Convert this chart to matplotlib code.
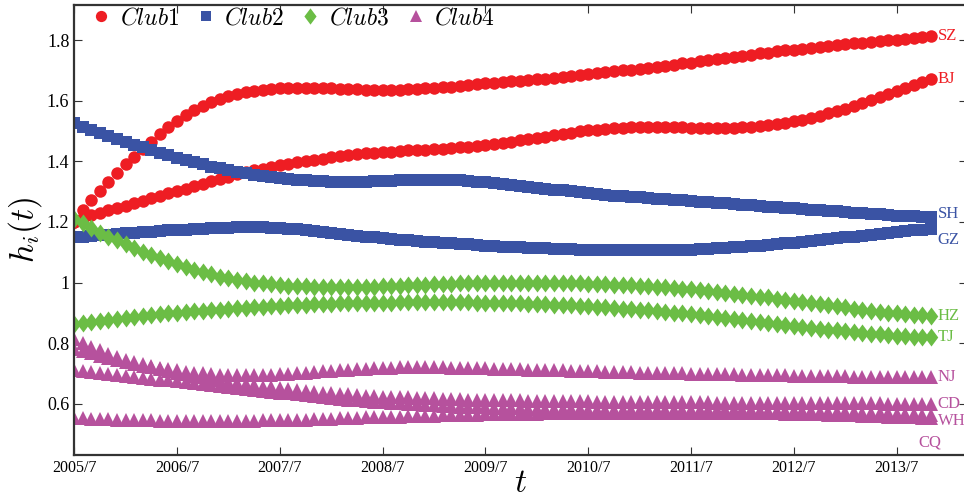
import numpy as np
import matplotlib
matplotlib.use("Agg")
from matplotlib import pyplot as plt
from matplotlib.lines import Line2D

plt.rcParams["font.family"] = ["Liberation Serif", "DejaVu Serif"]
plt.rcParams["mathtext.fontset"] = "cm"

# monthly values, 2005/7 .. 2013/11
SZ = [1.200, 1.240, 1.272, 1.303, 1.333, 1.362, 1.390, 1.415, 1.440, 1.465, 1.490, 1.513,
      1.533, 1.552, 1.568, 1.583, 1.596, 1.606, 1.615, 1.622, 1.628, 1.632, 1.636, 1.639,
      1.641, 1.642, 1.643, 1.643, 1.643, 1.642, 1.641, 1.640, 1.639, 1.638, 1.637, 1.637,
      1.636, 1.636, 1.637, 1.638, 1.639, 1.641, 1.643, 1.645, 1.647, 1.650, 1.652, 1.655,
      1.657, 1.659, 1.662, 1.664, 1.666, 1.668, 1.671, 1.673, 1.676, 1.679, 1.682, 1.685,
      1.688, 1.691, 1.694, 1.697, 1.700, 1.703, 1.706, 1.709, 1.712, 1.716, 1.719, 1.723,
      1.726, 1.730, 1.734, 1.737, 1.741, 1.745, 1.748, 1.752, 1.756, 1.759, 1.763, 1.766,
      1.769, 1.772, 1.775, 1.778, 1.781, 1.784, 1.787, 1.789, 1.792, 1.795, 1.797, 1.800,
      1.802, 1.805, 1.808, 1.811, 1.814]
BJ = [1.200, 1.213, 1.222, 1.230, 1.238, 1.246, 1.254, 1.262, 1.270, 1.278, 1.286, 1.294,
      1.302, 1.310, 1.318, 1.326, 1.334, 1.342, 1.350, 1.357, 1.364, 1.370, 1.376, 1.382,
      1.387, 1.392, 1.397, 1.401, 1.405, 1.409, 1.413, 1.417, 1.420, 1.423, 1.426, 1.428,
      1.430, 1.432, 1.434, 1.436, 1.437, 1.439, 1.440, 1.442, 1.444, 1.446, 1.448, 1.451,
      1.454, 1.457, 1.461, 1.465, 1.469, 1.473, 1.478, 1.482, 1.487, 1.491, 1.495, 1.499,
      1.502, 1.505, 1.507, 1.509, 1.511, 1.512, 1.513, 1.513, 1.513, 1.513, 1.512, 1.512,
      1.511, 1.511, 1.510, 1.510, 1.510, 1.511, 1.512, 1.514, 1.516, 1.519, 1.523, 1.527,
      1.532, 1.538, 1.544, 1.551, 1.558, 1.566, 1.574, 1.583, 1.592, 1.601, 1.611, 1.621,
      1.631, 1.641, 1.651, 1.661, 1.671]
SH = [1.525, 1.515, 1.505, 1.495, 1.485, 1.475, 1.465, 1.455, 1.446, 1.437, 1.428, 1.420,
      1.412, 1.404, 1.397, 1.390, 1.383, 1.377, 1.371, 1.366, 1.361, 1.356, 1.352, 1.348,
      1.345, 1.342, 1.339, 1.337, 1.335, 1.334, 1.333, 1.332, 1.332, 1.332, 1.333, 1.334,
      1.335, 1.336, 1.337, 1.338, 1.339, 1.339, 1.339, 1.339, 1.338, 1.337, 1.335, 1.333,
      1.331, 1.328, 1.325, 1.322, 1.319, 1.316, 1.313, 1.310, 1.307, 1.304, 1.301, 1.298,
      1.295, 1.292, 1.290, 1.287, 1.285, 1.283, 1.281, 1.279, 1.277, 1.275, 1.273, 1.271,
      1.269, 1.267, 1.265, 1.263, 1.261, 1.259, 1.257, 1.255, 1.253, 1.251, 1.249, 1.247,
      1.245, 1.243, 1.241, 1.239, 1.237, 1.235, 1.233, 1.231, 1.229, 1.227, 1.225, 1.223,
      1.221, 1.220, 1.219, 1.218, 1.217]
GZ = [1.150, 1.152, 1.154, 1.156, 1.158, 1.160, 1.162, 1.164, 1.166, 1.168, 1.170, 1.172,
      1.174, 1.175, 1.177, 1.178, 1.179, 1.180, 1.181, 1.182, 1.182, 1.182, 1.182, 1.181,
      1.180, 1.178, 1.176, 1.173, 1.170, 1.167, 1.164, 1.161, 1.158, 1.155, 1.152, 1.149,
      1.146, 1.144, 1.141, 1.139, 1.137, 1.135, 1.133, 1.131, 1.129, 1.127, 1.126, 1.124,
      1.122, 1.121, 1.119, 1.118, 1.116, 1.115, 1.114, 1.113, 1.112, 1.111, 1.110, 1.109,
      1.108, 1.107, 1.107, 1.106, 1.106, 1.106, 1.106, 1.106, 1.106, 1.107, 1.107, 1.108,
      1.109, 1.110, 1.111, 1.113, 1.114, 1.116, 1.118, 1.120, 1.122, 1.124, 1.126, 1.129,
      1.131, 1.134, 1.137, 1.140, 1.143, 1.146, 1.149, 1.152, 1.155, 1.158, 1.161, 1.164,
      1.167, 1.170, 1.173, 1.175, 1.178]
HZ = [1.210, 1.195, 1.180, 1.165, 1.152, 1.139, 1.126, 1.114, 1.102, 1.091, 1.080, 1.070,
      1.060, 1.051, 1.042, 1.034, 1.027, 1.020, 1.014, 1.009, 1.004, 1.000, 0.997, 0.994,
      0.992, 0.990, 0.989, 0.988, 0.987, 0.986, 0.986, 0.986, 0.986, 0.986, 0.987, 0.987,
      0.988, 0.989, 0.990, 0.991, 0.992, 0.993, 0.994, 0.995, 0.996, 0.997, 0.997, 0.998,
      0.998, 0.999, 0.999, 0.999, 0.999, 0.999, 0.999, 0.999, 0.999, 0.998, 0.998, 0.997,
      0.996, 0.995, 0.994, 0.993, 0.992, 0.991, 0.990, 0.988, 0.986, 0.984, 0.982, 0.980,
      0.978, 0.975, 0.972, 0.969, 0.966, 0.963, 0.960, 0.957, 0.954, 0.951, 0.947, 0.944,
      0.940, 0.937, 0.933, 0.929, 0.925, 0.922, 0.918, 0.914, 0.911, 0.907, 0.904, 0.901,
      0.898, 0.896, 0.894, 0.892, 0.890]
TJ = [0.862, 0.866, 0.870, 0.874, 0.877, 0.880, 0.883, 0.886, 0.889, 0.892, 0.895, 0.898,
      0.900, 0.903, 0.905, 0.907, 0.909, 0.911, 0.913, 0.915, 0.917, 0.919, 0.920, 0.922,
      0.923, 0.925, 0.926, 0.927, 0.928, 0.929, 0.930, 0.931, 0.932, 0.932, 0.933, 0.933,
      0.934, 0.934, 0.935, 0.935, 0.935, 0.935, 0.935, 0.935, 0.935, 0.935, 0.935, 0.934,
      0.934, 0.933, 0.933, 0.932, 0.931, 0.930, 0.929, 0.928, 0.927, 0.926, 0.925, 0.923,
      0.922, 0.920, 0.918, 0.916, 0.914, 0.912, 0.910, 0.908, 0.905, 0.903, 0.900, 0.898,
      0.895, 0.892, 0.889, 0.886, 0.883, 0.880, 0.877, 0.874, 0.870, 0.867, 0.864, 0.860,
      0.857, 0.854, 0.851, 0.848, 0.845, 0.842, 0.839, 0.836, 0.833, 0.831, 0.829, 0.827,
      0.825, 0.823, 0.822, 0.821, 0.820]
NJ = [0.815, 0.800, 0.788, 0.776, 0.765, 0.755, 0.746, 0.738, 0.731, 0.725, 0.719, 0.714,
      0.710, 0.706, 0.703, 0.700, 0.698, 0.696, 0.695, 0.694, 0.694, 0.694, 0.695, 0.696,
      0.697, 0.699, 0.701, 0.703, 0.705, 0.707, 0.709, 0.711, 0.713, 0.715, 0.716, 0.717,
      0.718, 0.719, 0.720, 0.720, 0.720, 0.720, 0.720, 0.720, 0.719, 0.719, 0.718, 0.718,
      0.717, 0.716, 0.716, 0.715, 0.714, 0.713, 0.713, 0.712, 0.711, 0.710, 0.709, 0.709,
      0.708, 0.707, 0.706, 0.706, 0.705, 0.704, 0.703, 0.703, 0.702, 0.701, 0.701, 0.700,
      0.699, 0.699, 0.698, 0.698, 0.697, 0.697, 0.696, 0.696, 0.695, 0.695, 0.694, 0.694,
      0.693, 0.693, 0.692, 0.692, 0.692, 0.691, 0.691, 0.690, 0.690, 0.690, 0.689, 0.689,
      0.689, 0.688, 0.688, 0.688, 0.687]
CD = [0.780, 0.773, 0.766, 0.759, 0.752, 0.745, 0.738, 0.732, 0.726, 0.720, 0.714, 0.708,
      0.702, 0.697, 0.692, 0.687, 0.682, 0.677, 0.673, 0.669, 0.665, 0.661, 0.657, 0.654,
      0.651, 0.648, 0.645, 0.642, 0.639, 0.637, 0.635, 0.633, 0.631, 0.629, 0.627, 0.626,
      0.624, 0.623, 0.622, 0.621, 0.620, 0.619, 0.618, 0.617, 0.616, 0.615, 0.614, 0.614,
      0.613, 0.612, 0.612, 0.611, 0.611, 0.610, 0.610, 0.609, 0.609, 0.609, 0.608, 0.608,
      0.608, 0.607, 0.607, 0.607, 0.607, 0.606, 0.606, 0.606, 0.606, 0.606, 0.605, 0.605,
      0.605, 0.605, 0.605, 0.604, 0.604, 0.604, 0.604, 0.604, 0.603, 0.603, 0.603, 0.603,
      0.603, 0.602, 0.602, 0.602, 0.602, 0.602, 0.601, 0.601, 0.601, 0.601, 0.601, 0.600,
      0.600, 0.600, 0.600, 0.600, 0.600]
CQ = [0.710, 0.707, 0.704, 0.701, 0.698, 0.695, 0.692, 0.689, 0.686, 0.683, 0.680, 0.677,
      0.674, 0.671, 0.668, 0.664, 0.661, 0.658, 0.655, 0.652, 0.649, 0.646, 0.643, 0.640,
      0.637, 0.634, 0.631, 0.628, 0.625, 0.622, 0.619, 0.617, 0.614, 0.612, 0.609, 0.607,
      0.605, 0.603, 0.601, 0.599, 0.598, 0.596, 0.595, 0.593, 0.592, 0.591, 0.590, 0.589,
      0.588, 0.587, 0.586, 0.585, 0.585, 0.584, 0.584, 0.583, 0.583, 0.582, 0.582, 0.582,
      0.581, 0.581, 0.581, 0.581, 0.580, 0.580, 0.580, 0.580, 0.580, 0.580, 0.579, 0.579,
      0.579, 0.579, 0.579, 0.579, 0.578, 0.578, 0.578, 0.578, 0.577, 0.577, 0.577, 0.576,
      0.576, 0.575, 0.575, 0.574, 0.574, 0.573, 0.572, 0.572, 0.571, 0.570, 0.569, 0.568,
      0.567, 0.566, 0.565, 0.564, 0.563]
WH = [0.553, 0.552, 0.551, 0.550, 0.549, 0.548, 0.547, 0.546, 0.545, 0.545, 0.544, 0.544,
      0.543, 0.543, 0.543, 0.543, 0.543, 0.543, 0.543, 0.543, 0.544, 0.544, 0.545, 0.545,
      0.546, 0.547, 0.547, 0.548, 0.549, 0.550, 0.551, 0.552, 0.553, 0.554, 0.555, 0.556,
      0.557, 0.558, 0.558, 0.559, 0.560, 0.561, 0.561, 0.562, 0.563, 0.563, 0.564, 0.564,
      0.565, 0.565, 0.566, 0.566, 0.567, 0.567, 0.567, 0.568, 0.568, 0.568, 0.569, 0.569,
      0.569, 0.569, 0.570, 0.570, 0.570, 0.570, 0.570, 0.570, 0.570, 0.570, 0.570, 0.570,
      0.570, 0.570, 0.570, 0.570, 0.570, 0.569, 0.569, 0.569, 0.569, 0.568, 0.568, 0.567,
      0.567, 0.566, 0.566, 0.565, 0.564, 0.564, 0.563, 0.562, 0.561, 0.560, 0.559, 0.558,
      0.557, 0.556, 0.555, 0.554, 0.553]

tick_labels = ["2005/7", "2006/7", "2007/7", "2008/7", "2009/7",
               "2010/7", "2011/7", "2012/7", "2013/7"]

# narrow diamond, a bit taller than wide
thin_diamond = [(0, 1), (0.75, 0), (0, -1), (-0.75, 0), (0, 1)]

clubs = [
    ("#ee1d23", "o", 9, [("SZ", SZ), ("BJ", BJ)]),
    ("#3a53a4", "s", 8, [("SH", SH), ("GZ", GZ)]),
    ("#6bbd45", thin_diamond, 13, [("HZ", HZ), ("TJ", TJ)]),
    ("#b6519d", "^", 10, [("NJ", NJ), ("CD", CD), ("CQ", CQ), ("WH", WH)]),
]
club_names = [r"$Club1$", r"$Club2$", r"$Club3$", r"$Club4$"]

# label nudges in points (dx, dy) from the last marker
label_offsets = {"SZ": (5, 0), "BJ": (5, 0), "SH": (5, 2), "GZ": (5, -8),
                 "HZ": (5, 0), "TJ": (5, 0), "NJ": (5, 0), "CD": (5, 0),
                 "WH": (5, -2), "CQ": (-9, -20)}

fig = plt.figure(figsize=(9.64, 5.0), dpi=100)
ax = fig.add_axes([0.077, 0.09, 0.926, 0.90])

for color, marker, ms, series in clubs:
    for name, vals in series:
        x = np.arange(len(vals))
        ax.plot(x, vals, linestyle="none", marker=marker, ms=ms, color=color,
                markeredgewidth=0)
        dx, dy = label_offsets[name]
        ax.annotate(name, (x[-1], vals[-1]), xytext=(dx, dy),
                    textcoords="offset points", va="center", ha="left",
                    color=color, fontsize=12)

ax.set_xlim(0, 104.2)
ax.set_ylim(0.431, 1.916)
ax.set_xticks(np.arange(len(tick_labels)) * 12)
ax.set_xticklabels(tick_labels, fontsize=11.5)
ax.set_yticks([0.6, 0.8, 1.0, 1.2, 1.4, 1.6, 1.8])
ax.set_yticklabels(["0.6", "0.8", "1", "1.2", "1.4", "1.6", "1.8"], fontsize=13)
ax.tick_params(direction="in", length=6, width=0.8, top=True, right=True,
               color="#333333")
for sp in ax.spines.values():
    sp.set_linewidth(1.6)
    sp.set_color("#333333")

ax.set_xlabel(r"$t$", fontsize=24, labelpad=-5)
ax.set_ylabel(r"$h_i(t)$", fontsize=24, labelpad=2)

handles = [Line2D([], [], linestyle="none", marker=m, ms=ms * 0.9, color=c,
                  markeredgewidth=0)
           for c, m, ms, _ in clubs]
ax.legend(handles, club_names, loc="upper left", ncol=4, frameon=False,
          fontsize=17, handlelength=0.8, handletextpad=0.4, columnspacing=0.7,
          borderpad=0.1, borderaxespad=0.0, bbox_to_anchor=(0.017, 1.0))

fig.savefig("out.png", dpi=100)
